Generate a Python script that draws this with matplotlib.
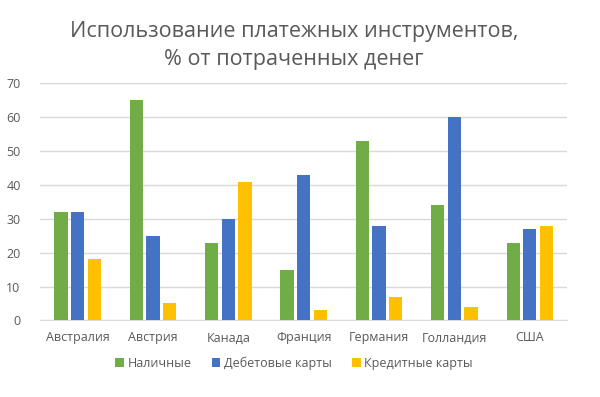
import matplotlib.pyplot as plt
import numpy as np

plt.rcParams['font.family'] = ['Open Sans', 'DejaVu Sans']

countries = ["Австралия", "Австрия", "Канада", "Франция", "Германия", "Голландия", "США"]
cash = [32, 65, 23, 15, 53, 34, 23]
debit = [32, 25, 30, 43, 28, 60, 27]
credit = [18, 5, 41, 3, 7, 4, 28]

series = [("Наличные", cash, "#70ad47"),
          ("Дебетовые карты", debit, "#4472c4"),
          ("Кредитные карты", credit, "#ffc000")]

fig = plt.figure(figsize=(6, 3.97), dpi=100)
ax = fig.add_axes([0.0667, 0.193, 0.879, 0.597])

x = np.arange(len(countries))
slot = 0.22
width = 0.177
for k, (name, vals, col) in enumerate(series):
    ax.bar(x + (k - 1) * slot, vals, width, color=col, label=name, zorder=3)

ax.set_xlim(-0.5, len(countries) - 0.5)
ax.set_ylim(0, 70)
ax.set_yticks(range(0, 71, 10))
ax.set_xticks(x)
ax.set_xticklabels(countries)
ax.grid(axis='y', color='#d9d9d9', linewidth=1, zorder=0)
for s in ['top', 'right', 'left']:
    ax.spines[s].set_visible(False)
ax.spines['bottom'].set_color('#d9d9d9')
ax.tick_params(axis='both', length=0, colors='#595959', labelsize=9)
ax.tick_params(axis='x', pad=8)
ax.tick_params(axis='y', pad=14)

fig.text(0.49, 0.885, "Использование платежных инструментов,\n% от потраченных денег",
         ha='center', va='center', fontsize=15.5, color='#595959', linespacing=1.45)

fig.legend(loc='center', bbox_to_anchor=(0.49, 0.085), ncol=3, frameon=False,
           fontsize=9, handlelength=0.7, handleheight=0.7, handletextpad=0.3,
           columnspacing=1.6, labelcolor='#595959')

fig.savefig("out.png", dpi=100)
